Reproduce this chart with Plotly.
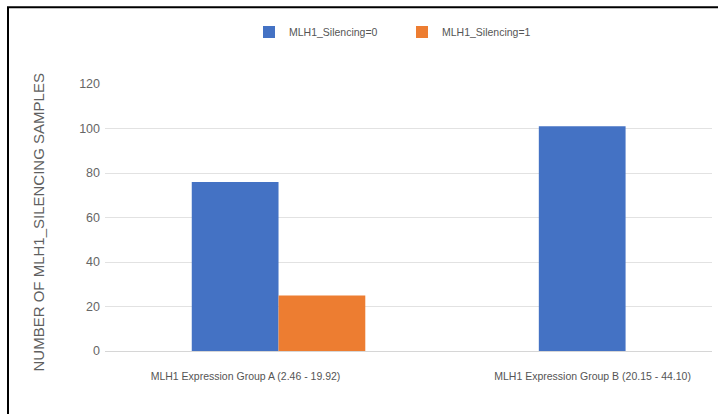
import plotly.graph_objects as go

# Sample counts per MLH1 expression group
groups = ["MLH1 Expression Group A (2.46 - 19.92)", "MLH1 Expression Group B (20.15 - 44.10)"]
silencing_0 = [76, 101]
silencing_1 = [25, 0]
series_names = ["MLH1_Silencing=0", "MLH1_Silencing=1"]
y_ticks = [0, 20, 40, 60, 80, 100, 120]

W, H = 718, 414
ML, MR, MT, MB = 105, 6, 84, 63
PW, PH = W - ML - MR, H - MT - MB

FONT = "Liberation Sans, Arial, sans-serif"
BLUE = "#4472C4"
ORANGE = "#ED7D31"


def px_x(x):
    return (x - ML) / PW


def px_y(y):
    return (H - MB - y) / PH


fig = go.Figure()
fig.add_trace(go.Bar(x=groups, y=silencing_0, name=series_names[0],
                     marker=dict(color=BLUE, line=dict(width=0))))
fig.add_trace(go.Bar(x=groups, y=silencing_1, name=series_names[1],
                     marker=dict(color=ORANGE, line=dict(width=0))))

# Outer frame lines (left and top)
frame = dict(type="line", xref="paper", yref="paper", line=dict(color="black", width=2))
fig.add_shape(**frame, x0=px_x(8), x1=px_x(8), y0=px_y(7), y1=px_y(H + 2))
fig.add_shape(**frame, x0=px_x(7), x1=px_x(W + 2), y0=px_y(7.3), y1=px_y(7.3))

# Vertical axis title
fig.add_annotation(text="NUMBER OF MLH1_SILENCING SAMPLES", textangle=-90,
                   xref="paper", yref="paper", x=px_x(38), y=px_y(222.5),
                   xanchor="center", yanchor="middle", showarrow=False,
                   font=dict(family=FONT, size=15, color="#5f5f5f"))

fig.update_layout(
    width=W, height=H,
    margin=dict(l=ML, r=MR, t=MT, b=MB, pad=0),
    paper_bgcolor="white", plot_bgcolor="white",
    barmode="group", bargap=0.5, bargroupgap=0,
    font=dict(family=FONT, color="#666666"),
    showlegend=True,
    legend=dict(orientation="h", x=px_x(249), y=px_y(32), xanchor="left", yanchor="middle",
                font=dict(family=FONT, size=10.5, color="#555555"),
                itemwidth=30, entrywidth=108, entrywidthmode="pixels",
                bgcolor="rgba(0,0,0,0)"),
    xaxis=dict(range=[-0.5, 1.249], showgrid=False, zeroline=False, showline=False,
               ticks="", tickfont=dict(family=FONT, size=10.5, color="#555555"),
               ticklabelshift=-33, ticklabelstandoff=17, fixedrange=True),
    yaxis=dict(range=[0, 120], tickvals=y_ticks, showgrid=True, gridcolor="#e2e2e2", gridwidth=1,
               zeroline=True, zerolinecolor="#d6d6d6", zerolinewidth=1, showline=False,
               ticks="", ticklabelstandoff=4,
               tickfont=dict(family=FONT, size=12.5, color="#666666"), fixedrange=True),
)

fig.write_html("out.html")
